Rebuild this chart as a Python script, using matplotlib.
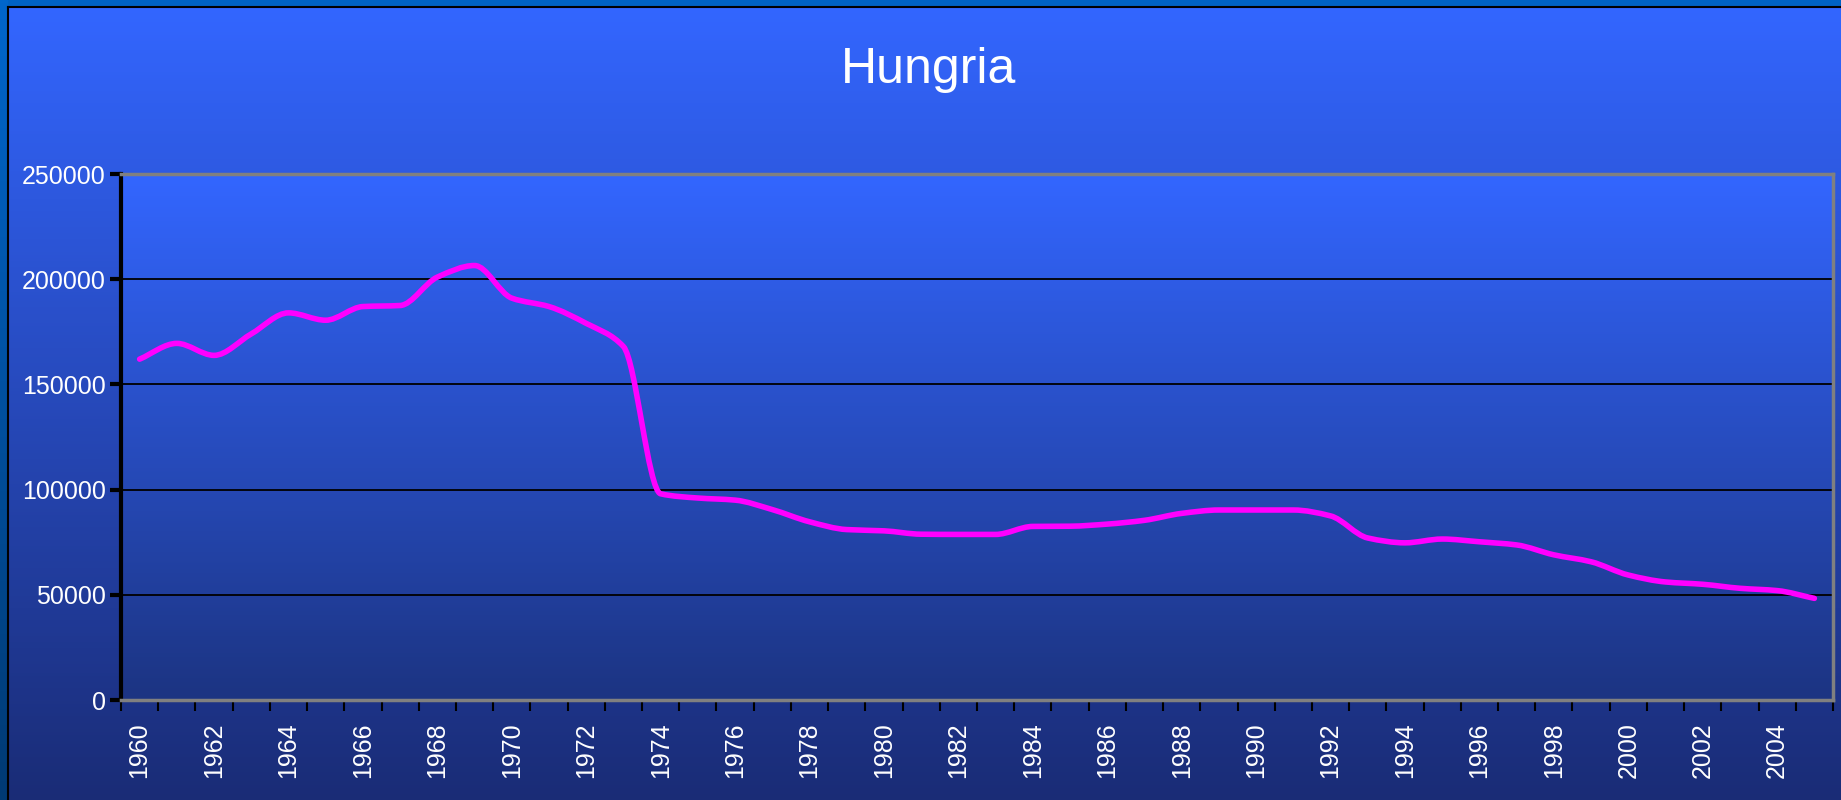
import numpy as np
import matplotlib
matplotlib.use("Agg")
import matplotlib.pyplot as plt
from matplotlib.colors import LinearSegmentedColormap
from matplotlib.path import Path
from matplotlib.patches import PathPatch

# data
years = list(range(1960, 2006))
values = [162000, 169500, 163800, 174000, 184000, 180500, 187000, 187500, 201000, 206500,
          191000, 187000, 179000, 168000, 98000, 96000, 95000, 90500, 84700, 81000,
          80400, 78800, 78700, 78700, 82500, 82600, 83600, 85400, 88700, 90300,
          90300, 90300, 87500, 77000, 74700, 76500, 75200, 73700, 69000, 65700,
          59400, 56100, 55000, 53100, 52000, 48300]
yticks = [0, 50000, 100000, 150000, 200000, 250000]
title = "Hungria"

plt.rcParams['font.family'] = ['Liberation Sans', 'DejaVu Sans']


def smooth_path(xs, ys):
    # smoothed line as bezier segments through every point, tangents kept
    # monotone so the curve does not overshoot
    xs = np.asarray(xs, float)
    ys = np.asarray(ys, float)
    n = len(xs)
    d = np.diff(ys) / np.diff(xs)
    m = np.zeros(n)
    m[0], m[-1] = d[0], d[-1]
    for i in range(1, n - 1):
        if d[i - 1] * d[i] > 0:
            m[i] = 2 / (1 / d[i - 1] + 1 / d[i])
    verts = [(xs[0], ys[0])]
    codes = [Path.MOVETO]
    for i in range(n - 1):
        h = xs[i + 1] - xs[i]
        verts += [(xs[i] + h / 3, ys[i] + m[i] * h / 3),
                  (xs[i + 1] - h / 3, ys[i + 1] - m[i + 1] * h / 3),
                  (xs[i + 1], ys[i + 1])]
        codes += [Path.CURVE4] * 3
    return Path(verts, codes)


W, H = 1841, 800
fig = plt.figure(figsize=(W / 100, H / 100), dpi=100)
fig.patch.set_facecolor('#0062c4')

# outer left strip darker toward the bottom
strip = fig.add_axes([0, 0, 8 / W, 1])
strip.imshow(np.linspace(0, 1, 256).reshape(-1, 1), aspect='auto', extent=[0, 1, 0, 1],
             cmap=LinearSegmentedColormap.from_list('s', ['#0066cc', '#003a74']))
strip.axis('off')

# chart area gradient
bg = fig.add_axes([8 / W, 0, 1 - 8 / W, 1 - 7 / H])
bg.imshow(np.linspace(0, 1, 256).reshape(-1, 1), aspect='auto', extent=[0, 1, 0, 1],
          cmap=LinearSegmentedColormap.from_list('b', ['#3366ff', '#1a2c76']))
bg.set_xticks([])
bg.set_yticks([])
for s in ['right', 'bottom']:
    bg.spines[s].set_visible(False)
for s in ['left', 'top']:
    bg.spines[s].set_color('black')
    bg.spines[s].set_linewidth(1.5)

# plot area
left, right, top, bottom = 121, 1833, 174, 700
ax = fig.add_axes([left / W, 1 - bottom / H, (right - left) / W, (bottom - top) / H])
ax.imshow(np.linspace(0, 1, 256).reshape(-1, 1), aspect='auto', extent=[0, 1, 0, 1],
          transform=ax.transAxes, zorder=0,
          cmap=LinearSegmentedColormap.from_list('p', ['#3366ff', '#1c3482']))

x = np.arange(len(years))
for v in yticks[1:-1]:
    ax.axhline(v, color='black', lw=1.3, zorder=1)
ax.add_patch(PathPatch(smooth_path(x, values), facecolor='none', edgecolor='#ff00ff',
                       lw=4, joinstyle='round', capstyle='round', zorder=3))

ax.set_xlim(-0.5, len(years) - 0.5)
ax.set_ylim(0, 250000)

ax.set_yticks(yticks)
ax.set_yticklabels([str(v) for v in yticks])
ax.tick_params(axis='y', colors='black', labelcolor='white', labelsize=18,
               length=8, width=3, direction='out', pad=3)

ax.set_xticks(np.arange(-0.5, len(years)), minor=False)
ax.set_xticklabels([])
ax.tick_params(axis='x', which='major', colors='black', length=8, width=1.5, direction='out')
ax.set_xticks(x[::2], minor=True)
ax.set_xticklabels([str(y) for y in years[::2]], minor=True, rotation=90)
ax.tick_params(axis='x', which='minor', length=0, labelcolor='white', labelsize=18, pad=16)

ax.spines['left'].set_color('black')
ax.spines['left'].set_linewidth(3)
for s in ['top', 'right', 'bottom']:
    ax.spines[s].set_color('#808080')
    ax.spines[s].set_linewidth(2.5)

fig.text(929 / W, 1 - 70 / H, title, ha='center', va='center', color='white', fontsize=36)

fig.savefig('out.png', dpi=100, facecolor=fig.get_facecolor())
